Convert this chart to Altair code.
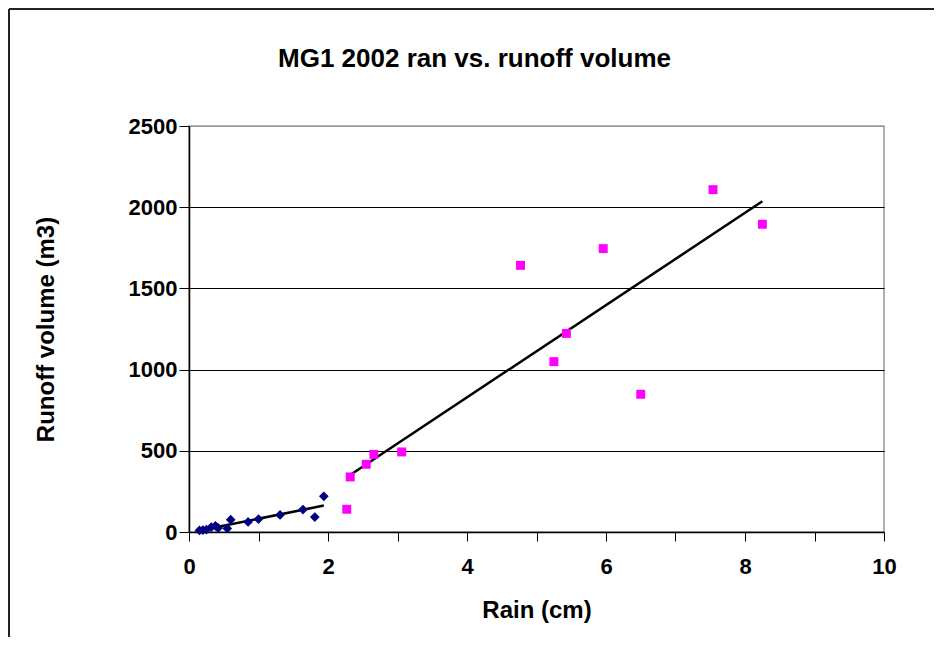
import altair as alt
import pandas as pd

# Series 1 (small events) - navy diamonds
rain_low = [0.15, 0.20, 0.25, 0.32, 0.38, 0.42, 0.55, 0.60, 0.85, 1.00, 1.31, 1.64, 1.81, 1.94]
runoff_low = [10, 12, 15, 30, 38, 25, 22, 76, 62, 80, 105, 138, 92, 220]

# Series 2 (large events) - magenta squares
rain_high = [2.27, 2.32, 2.55, 2.66, 3.06, 4.77, 5.25, 5.43, 5.96, 6.50, 7.54, 8.25]
runoff_high = [140, 339, 417, 478, 493, 1642, 1049, 1223, 1745, 848, 2108, 1895]

x_ticks = list(range(0, 11))
y_ticks = [0, 500, 1000, 1500, 2000, 2500]

df = pd.DataFrame({
    "rain": rain_low + rain_high,
    "runoff": runoff_low + runoff_high,
    "series": ["low"] * len(rain_low) + ["high"] * len(rain_high),
})

FONT = "Liberation Sans"
W, H = 695, 406

x_enc = alt.X(
    "rain:Q",
    scale=alt.Scale(domain=[0, 10], nice=False, zero=True),
    axis=alt.Axis(
        values=x_ticks,
        format="d",
        labelExpr="datum.value % 2 === 0 ? datum.label : ''",
        labelFlush=False,
        grid=False,
        title="Rain (cm)",
        tickSize=9,
        labelPadding=15,
        titlePadding=21,
    ),
)
y_enc = alt.Y(
    "runoff:Q",
    scale=alt.Scale(domain=[0, 2500], nice=False),
    axis=alt.Axis(
        values=y_ticks,
        format="d",
        labelFlush=False,
        grid=True,
        gridColor={"condition": {"test": "datum.value === 2500", "value": "#999999"}, "value": "black"},
        title="Runoff volume (m3)",
        tickSize=10,
        labelPadding=2,
        titlePadding=70,
    ),
)

base = alt.Chart(df)

pts_low = base.transform_filter(alt.datum.series == "low").mark_point(
    shape="diamond", filled=True, color="#000080", size=95, opacity=1
).encode(x=x_enc, y=y_enc)

pts_high = base.transform_filter(alt.datum.series == "high").mark_point(
    shape="square", filled=True, color="#FF00FF", size=80, opacity=1
).encode(x=x_enc, y=y_enc)

trend = base.transform_regression(
    "rain", "runoff", groupby=["series"]
).mark_line(color="black", strokeWidth=2.5).encode(x="rain:Q", y="runoff:Q", detail="series:N")

frame_v = alt.Chart(pd.DataFrame({"k": [0]})).mark_rule(color="#222222", strokeWidth=2).encode(
    x=alt.value(-180), y=alt.value(-117), y2=alt.value(H + 150)
)
frame_h = alt.Chart(pd.DataFrame({"k": [0]})).mark_rule(color="#222222", strokeWidth=2).encode(
    y=alt.value(-117), x=alt.value(-180), x2=alt.value(W + 200)
)

chart = alt.layer(frame_v, frame_h, trend, pts_low, pts_high).properties(
    width=W,
    height=H,
    background="white",
    padding={"left": 181, "top": 118, "right": 50, "bottom": 105},
    autosize=alt.AutoSizeParams(type="none"),
    title=alt.Title(
        "MG1 2002 ran vs. runoff volume",
        fontSize=26,
        font=FONT,
        fontWeight="bold",
        color="black",
        anchor="middle",
        dx=-62,
        offset=0,
        dy=64,
    ),
).configure_view(
    stroke="#999999", strokeWidth=1.5
).configure_axis(
    labelFont=FONT,
    labelFontSize=22,
    labelFontWeight="bold",
    labelColor="black",
    titleFont=FONT,
    titleFontSize=24,
    titleFontWeight="bold",
    titleColor="black",
    domainColor="black",
    domainWidth=1.5,
    tickColor="black",
    tickWidth=1,
    gridWidth=1.2,
)

chart.save("out.html", embed_options={"renderer": "svg", "actions": False})
